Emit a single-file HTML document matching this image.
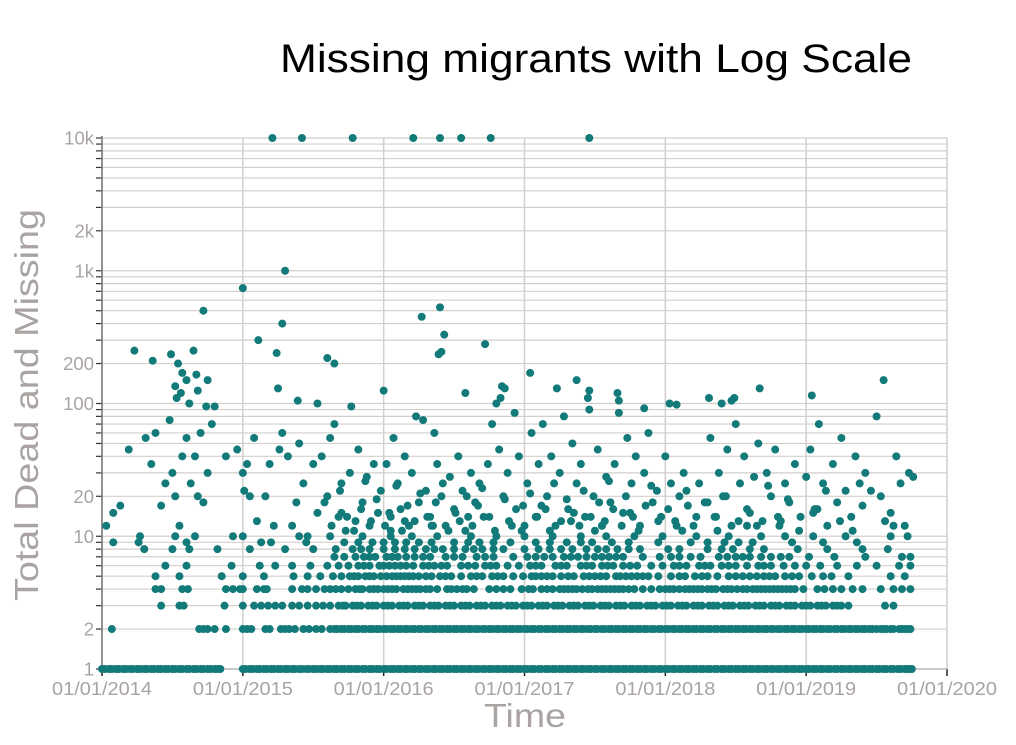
<!DOCTYPE html>
<html><head><meta charset="utf-8"><style>
html,body{margin:0;padding:0;background:#fff;width:1016px;height:745px;overflow:hidden}
svg{display:block}
</style></head><body>
<svg id="chart" width="1016" height="745" xmlns="http://www.w3.org/2000/svg">
<text x="596" y="72" text-anchor="middle" font-family="Liberation Sans, sans-serif" font-size="40" fill="#000" textLength="632" lengthAdjust="spacingAndGlyphs">Missing migrants with Log Scale</text>
<g id="grid"></g>
<g id="axes"></g>
<g id="dots"></g>
<text x="525" y="727" text-anchor="middle" font-family="Liberation Sans, sans-serif" font-size="33" fill="#a9a4a2" textLength="82" lengthAdjust="spacingAndGlyphs">Time</text>
<text transform="translate(38,405) rotate(-90)" text-anchor="middle" font-family="Liberation Sans, sans-serif" font-size="33" fill="#a9a4a2" textLength="392" lengthAdjust="spacingAndGlyphs">Total Dead and Missing</text>
</svg>
<script>
const xTickYears=[2014,2015,2016,2017,2018,2019,2020];
const xTickLabels=["01/01/2014","01/01/2015","01/01/2016","01/01/2017","01/01/2018","01/01/2019","01/01/2020"];
const yTickValues=[1,2,10,20,100,200,1000,2000,10000];
const yTickLabels=["1","2","10","20","100","200","1k","2k","10k"];
const row1Dates=[2014.00,2014.05,2014.10,2014.15,2014.20,2014.25,2014.30,2014.35,2014.40,2014.45,2014.50,2014.55,2014.60,2014.65,2014.70,2014.75,2014.80,2014.84,
2015.00,2015.05,2015.10,2015.15,2015.20,2015.25,2015.30,2015.35,2015.40,2015.45,2015.50,2015.55,2015.60,2015.65,2015.70,2015.75,2015.80,2015.85,2015.90,2015.95,
2016.00,2016.05,2016.10,2016.15,2016.20,2016.25,2016.30,2016.35,2016.40,2016.45,2016.50,2016.55,2016.60,2016.65,2016.70,2016.75,2016.80,2016.85,2016.90,2016.95,
2017.00,2017.05,2017.10,2017.15,2017.20,2017.25,2017.30,2017.35,2017.40,2017.45,2017.50,2017.55,2017.60,2017.65,2017.70,2017.75,2017.80,2017.85,2017.90,2017.95,
2018.00,2018.05,2018.10,2018.15,2018.20,2018.25,2018.30,2018.35,2018.40,2018.45,2018.50,2018.55,2018.60,2018.65,2018.70,2018.75,2018.80,2018.85,2018.90,2018.95,
2019.00,2019.05,2019.10,2019.15,2019.20,2019.25,2019.30,2019.35,2019.40,2019.45,2019.50,2019.55,2019.60,2019.65,2019.70,2019.75];
const row1ExtraDates=[2014.02,2014.07,2014.12,2014.17,2014.22,2014.27,2014.32,2014.37,2014.42,2014.47,2014.52,2014.57,2014.62,2014.67,2014.72,2014.77,2014.82,
2015.02,2015.07,2015.12,2015.17,2015.22,2015.27,2015.32,2015.37,2015.42,2015.47,2015.52,2015.57,2015.62,2015.67,2015.72,2015.77,2015.82,2015.87,2015.92,2015.97,
2016.02,2016.07,2016.12,2016.17,2016.22,2016.27,2016.32,2016.37,2016.42,2016.47,2016.52,2016.57,2016.62,2016.67,2016.72,2016.77,2016.82,2016.87,2016.92,2016.97,
2017.02,2017.07,2017.12,2017.17,2017.22,2017.27,2017.32,2017.37,2017.42,2017.47,2017.52,2017.57,2017.62,2017.67,2017.72,2017.77,2017.82,2017.87,2017.92,2017.97,
2018.02,2018.07,2018.12,2018.17,2018.22,2018.27,2018.32,2018.37,2018.42,2018.47,2018.52,2018.57,2018.62,2018.67,2018.72,2018.77,2018.82,2018.87,2018.92,2018.97,
2019.02,2019.07,2019.12,2019.17,2019.22,2019.27,2019.32,2019.37,2019.42,2019.47,2019.52,2019.57,2019.62,2019.67,2019.72,2019.74];
const row2Dates=[2014.07,2014.69,2014.72,2014.75,2014.80,2014.88,2015.00,2015.03,2015.06,2015.16,2015.19,2015.27,2015.30,2015.33,2015.37,2015.43,2015.47,2015.52,2015.56,
2015.62,2015.67,2015.72,2015.77,2015.82,2015.87,2015.92,2015.97,2016.02,2016.07,2016.12,2016.17,2016.22,2016.27,2016.32,2016.37,2016.42,2016.47,2016.52,2016.57,2016.62,2016.67,2016.72,2016.77,2016.82,2016.87,2016.92,2016.97,
2017.02,2017.07,2017.12,2017.17,2017.22,2017.27,2017.32,2017.37,2017.42,2017.47,2017.52,2017.57,2017.62,2017.67,2017.72,2017.77,2017.82,2017.87,2017.92,2017.97,
2018.02,2018.07,2018.12,2018.17,2018.22,2018.27,2018.32,2018.37,2018.42,2018.47,2018.52,2018.57,2018.62,2018.67,2018.72,2018.77,2018.82,2018.87,2018.92,2018.97,
2019.02,2019.07,2019.12,2019.17,2019.22,2019.27,2019.32,2019.37,2019.42,2019.47,2019.53,2019.57,2019.62,2019.66,2019.70,2019.74];
const row2ExtraDates=[2015.65,2015.70,2015.75,2015.80,2015.85,2015.90,2015.95,2016.00,2016.05,2016.10,2016.15,2016.20,2016.25,2016.30,2016.35,2016.40,2016.45,2016.50,2016.55,2016.60,2016.65,2016.70,2016.75,2016.80,2016.85,2016.90,2016.95,
2017.00,2017.05,2017.10,2017.15,2017.20,2017.25,2017.30,2017.35,2017.40,2017.45,2017.50,2017.55,2017.60,2017.65,2017.70,2017.75,2017.80,2017.85,2017.90,2017.95,
2018.00,2018.05,2018.10,2018.15,2018.20,2018.25,2018.30,2018.35,2018.40,2018.45,2018.50,2018.55,2018.60,2018.65,2018.70,2018.75,2018.80,2018.85,2018.90,2018.95,
2019.00,2019.05,2019.10,2019.15,2019.20,2019.25,2019.30,2019.35,2019.40,2019.45,2019.50,2019.55,2019.60,2019.68,2019.72];
const row3Dates=[2014.42,2014.55,2014.58,2014.87,2015.00,2015.08,2015.13,2015.18,2015.23,2015.28,2015.35,2015.40,2015.46,2015.52,2015.57,2015.62,2015.68,2015.73,2015.78,2015.84,2015.89,2015.95,
2016.00,2016.06,2016.11,2016.17,2016.22,2016.28,2016.33,2016.39,2016.44,2016.50,2016.55,2016.61,2016.66,2016.72,2016.77,2016.83,2016.88,2016.94,2016.99,
2017.05,2017.10,2017.16,2017.21,2017.27,2017.32,2017.38,2017.43,2017.49,2017.54,2017.60,2017.65,2017.71,2017.76,2017.82,2017.87,2017.93,2017.98,
2018.04,2018.09,2018.15,2018.20,2018.26,2018.31,2018.37,2018.42,2018.48,2018.53,2018.59,2018.64,2018.70,2018.75,2018.81,2018.86,2018.92,2018.97,
2019.03,2019.08,2019.14,2019.19,2019.25,2019.30,2019.56,2019.62,
2015.71,2015.81,2015.92,2016.03,2016.14,2016.25,2016.36,2016.47,2016.58,2016.69,2016.80,2016.91,2017.02,2017.13,2017.24,2017.35,2017.46,2017.57,2017.68,2017.79,2017.90,2018.01,2018.12,2018.23,2018.34,2018.45,2018.56,2018.67,2018.78,2018.89,2019.00,2019.11,2019.22];
const row4Dates=[2014.38,2014.42,2014.57,2014.61,2014.88,2014.93,2014.98,2015.00,2015.10,2015.15,2015.17,2015.35,2015.42,2015.46,2015.52,2015.58,2015.62,2015.66,2015.70,2015.75,2015.80,2015.85,2015.90,2015.96,
2016.03,2016.09,2016.14,2016.20,2016.26,2016.33,2016.45,2016.52,2016.59,2016.64,2016.75,2016.85,2016.90,2016.98,
2017.06,2017.12,2017.20,2017.25,2017.31,2017.37,2017.45,2017.52,2017.58,2017.64,2017.70,2017.78,2017.84,2017.90,2017.96,
2018.03,2018.14,2018.20,2018.26,2018.36,2018.41,2018.47,2018.55,2018.62,2018.68,2018.74,2018.80,2018.86,2018.92,2018.98,
2019.08,2019.13,2019.19,2019.25,2019.33,2019.40,2019.53,2019.62,2019.68,2019.74,
2015.83,2015.93,2016.00,2016.06,2016.17,2016.23,2016.30,2016.38,2016.48,2016.56,2016.80,2017.03,2017.16,2017.28,2017.34,2017.41,2017.48,2017.55,2017.61,2017.67,2017.74,2018.00,2018.06,2018.10,2018.17,2018.23,2018.30,2018.33,2018.44,2018.51,2018.58,2018.65,2018.71,2018.77,2018.83,2018.89];
const row5Dates=[2014.38,2014.55,2014.85,2015.00,2015.15,2015.36,2015.46,2015.55,2015.64,2015.70,2015.76,2015.82,2015.87,2015.93,2015.98,
2016.06,2016.12,2016.18,2016.25,2016.30,2016.40,2016.48,2016.55,2016.62,2016.70,2016.77,2016.85,2016.92,2016.99,
2017.05,2017.12,2017.20,2017.26,2017.35,2017.42,2017.50,2017.58,2017.65,2017.72,2017.80,2017.88,2017.95,
2018.04,2018.10,2018.21,2018.30,2018.37,2018.45,2018.55,2018.60,2018.70,2018.78,2018.85,2018.95,
2019.04,2019.12,2019.18,2019.30,2019.60,2019.70,
2015.79,2015.90,2016.02,2016.09,2016.15,2016.21,2016.34,2016.44,2016.66,2016.81,2017.08,2017.16,2017.31,2017.46,2017.54,2017.68,2017.76,2017.84,2018.14,2018.26,2018.50,2018.65,2018.74,2018.90];
const row6Dates=[2014.45,2014.60,2014.92,2015.12,2015.23,2015.35,2015.48,2015.60,2015.68,2015.75,2015.82,2015.90,2015.97,2016.04,2016.12,2016.21,2016.28,2016.36,2016.45,2016.55,2016.65,2016.72,2016.80,2016.88,2016.96,
2017.04,2017.12,2017.22,2017.30,2017.40,2017.48,2017.55,2017.63,2017.70,2017.80,2017.90,2017.98,2018.06,2018.15,2018.24,2018.32,2018.40,2018.50,2018.58,2018.66,2018.75,2018.84,2018.92,2019.00,2019.10,2019.22,2019.36,2019.50,2019.66,2019.74,
2015.86,2016.00,2016.08,2016.16,2016.32,2016.41,2016.60,2016.76,2017.08,2017.26,2017.44,2017.59,2017.75,2018.10,2018.28,2018.45,2018.70];
const row7Dates=[2015.65,2015.72,2015.80,2015.86,2015.94,2016.02,2016.10,2016.22,2016.33,2016.44,2016.56,2016.66,2016.78,2016.92,2017.02,2017.14,2017.28,2017.38,2017.50,2017.60,2017.70,2017.84,2017.96,2018.10,2018.25,2018.38,2018.50,2018.60,2018.75,2018.88,2019.02,2019.20,2019.42,2019.68,2019.74,
2015.90,2016.06,2016.16,2016.28,2016.50,2016.72,2017.08,2017.20,2017.33,2017.44,2017.55,2017.65,2018.04,2018.18,2018.44,2018.55,2018.68,2018.82];
const row8Dates=[2014.30,2014.50,2014.62,2015.05,2015.30,2015.50,2015.66,2015.78,2015.90,2016.00,2016.15,2016.30,2016.42,2016.58,2016.70,2016.85,2017.00,2017.18,2017.34,2017.52,2017.66,2017.82,2018.02,2018.30,2018.48,2018.70,2018.94,2019.15,2019.40,2019.58,
2015.84,2016.08,2016.22,2016.36,2016.50,2016.64,2016.78,2017.10,2017.26,2017.44,2017.58,2017.74,2018.10,2018.40,2018.60];
const row9Dates=[2014.08,2014.60,2015.20,2015.45,2015.72,2015.92,2016.08,2016.25,2016.50,2016.68,2016.90,2017.08,2017.30,2017.48,2017.74,2017.95,2018.18,2018.42,2018.62,2018.90,2019.12,2019.36,
2015.82,2016.00,2016.16,2016.34,2016.60,2016.78,2017.18,2017.40,2017.62,2018.30,2018.52];
const row10Dates=[2014.27,2014.52,2014.66,2015.00,2015.40,2015.62,2015.85,2016.05,2016.20,2016.38,2016.62,2016.80,2017.00,2017.20,2017.40,2017.58,2017.78,2017.98,2018.22,2018.45,2018.68,2018.85,2019.05,2019.28,2019.60,2019.72];
const scatterDates=[2015.21,2015.42,2015.78,2016.21,2016.40,2016.55,2016.76,2017.46,
2015.00,2015.30,2014.72,2015.28,2015.11,2015.24,2014.23,2014.36,2014.49,2014.65,2014.54,2014.57,2014.52,2014.60,2014.75,2014.67,2014.56,2014.53,2014.68,2014.74,2014.80,2014.62,
2016.27,2016.40,2016.43,2016.41,2016.39,2016.72,2015.60,2015.65,2016.00,2015.77,2015.53,2015.39,2015.25,2016.58,2016.84,2016.86,2016.83,2017.04,2017.23,2017.37,2017.46,2017.45,2017.66,2017.67,2017.85,2018.03,2018.08,2018.31,2018.40,2018.47,2018.49,2018.67,2019.04,2019.55,
2014.03,2014.08,2014.13,2014.19,2014.26,2014.31,2014.35,2014.38,2014.42,2014.45,2014.48,2014.50,2014.52,2014.55,2014.57,2014.60,2014.63,2014.66,2014.68,2014.70,2014.72,2014.75,2014.78,2014.82,2014.88,2014.93,2014.96,
2015.00,2015.01,2015.03,2015.05,2015.08,2015.10,2015.13,2015.16,2015.19,2015.22,2015.26,2015.28,2015.32,2015.35,2015.38,2015.40,2015.43,2015.46,2015.50,2015.53,2015.56,2015.60,2015.62,2015.65,2015.68,2015.70,2015.73,2015.76,2015.80,2015.82,2015.85,2015.88,2015.90,2015.93,2015.96,2015.98,
2016.02,2016.05,2016.07,2016.10,2016.12,2016.15,2016.18,2016.20,2016.23,2016.25,2016.28,2016.30,2016.33,2016.36,2016.38,2016.41,2016.44,2016.47,2016.50,2016.53,2016.56,2016.58,2016.62,2016.65,2016.68,2016.71,2016.74,2016.77,2016.80,2016.82,2016.85,2016.88,2016.91,2016.93,2016.96,2016.99,
2017.02,2017.05,2017.08,2017.10,2017.13,2017.16,2017.19,2017.22,2017.25,2017.28,2017.31,2017.34,2017.37,2017.40,2017.43,2017.46,2017.49,2017.52,2017.55,2017.58,2017.61,2017.64,2017.67,2017.70,2017.73,2017.76,2017.79,2017.82,2017.85,2017.88,2017.91,2017.94,2017.97,
2018.00,2018.04,2018.07,2018.10,2018.13,2018.16,2018.20,2018.24,2018.28,2018.32,2018.35,2018.38,2018.41,2018.44,2018.47,2018.50,2018.53,2018.56,2018.60,2018.63,2018.66,2018.69,2018.72,2018.75,2018.78,2018.81,2018.85,2018.88,2018.92,2018.96,
2019.00,2019.03,2019.06,2019.09,2019.12,2019.15,2019.19,2019.22,2019.25,2019.28,2019.32,2019.35,2019.38,2019.42,2019.46,2019.50,2019.53,2019.56,2019.60,2019.64,2019.67,2019.70,2019.73,2019.76,
2015.70,2016.05,2016.15,2016.35,2016.60,2016.98,2017.15,2017.33,2017.55,2017.75,2018.12,2018.36,2018.58,2018.82,2019.08,2019.33,
2015.58,2015.63,2015.69,2015.74,2015.79,2015.84,2015.87,2015.91,2015.95,2016.01,2016.04,2016.09,2016.13,2016.17,2016.22,2016.26,2016.31,2016.34,2016.37,2016.42,2016.46,2016.51,2016.54,2016.59,2016.63,2016.67,2016.70,2016.75,2016.79,2016.86,2016.89,2016.94,
2017.00,2017.04,2017.09,2017.12,2017.18,2017.21,2017.26,2017.30,2017.35,2017.39,2017.42,2017.47,2017.50,2017.53,2017.57,2017.60,2017.63,2017.69,2017.72,2017.77,2017.81,2017.86,2017.90,2017.95,
2018.02,2018.08,2018.15,2018.22,2018.30,2018.37,2018.43,2018.52,2018.58,2018.65,2018.73,2018.80,2018.87,2018.95,2019.05,2019.14,2019.24,2019.40,2019.62];
const scatterValues=[10000,10000,10000,10000,10000,10000,10000,10000,
740,1000,500,400,300,240,250,210,235,250,200,170,135,150,150,165,120,110,125,95,95,100,
450,530,330,245,235,280,220,200,125,95,100,105,130,120,135,130,110,170,130,150,125,110,120,105,92,100,98,110,100,105,110,130,115,150,
12,15,17,45,9,55,35,60,17,25,75,30,20,12,40,55,25,40,20,60,18,30,70,8,40,10,45,
30,22,35,20,55,13,9,20,35,12,45,60,40,12,18,50,25,10,35,15,40,20,55,70,14,25,11,30,13,45,18,28,12,35,15,22,
35,14,55,25,16,40,12,30,80,18,75,22,14,60,35,20,12,28,16,40,22,11,30,18,25,14,35,70,100,45,20,30,12,85,40,17,
25,60,14,35,70,20,40,12,30,80,16,50,25,35,14,90,20,45,12,28,18,35,85,15,55,25,40,12,30,60,18,22,14,
40,25,13,20,30,17,12,25,18,55,14,30,20,45,12,70,25,40,15,28,50,13,30,20,45,12,25,18,35,14,
28,45,16,70,25,12,35,18,55,22,14,40,25,30,22,80,20,13,15,40,25,12,30,28,
15,11,13,12,14,11,16,13,12,15,11,14,12,13,16,11,
18,12,22,14,11,16,26,13,19,12,15,24,11,17,13,21,14,12,18,25,11,15,13,20,12,17,23,14,11,19,13,16,
12,21,14,17,11,25,13,19,15,12,22,14,11,18,13,26,16,12,20,14,11,17,24,13,
16,12,22,14,18,11,20,13,16,12,24,14,19,11,15,22,13,17,12];

const X0=102,X1=947,Y1=669,Y0=138;
function xScale(yr){return X0+(yr-2014)/(2020-2014)*(X1-X0);}
function yScale(v){return Y1-Math.log10(v)/4*(Y1-Y0);}
const NS="http://www.w3.org/2000/svg";
function mk(tag,attrs,parent){const e=document.createElementNS(NS,tag);for(const k in attrs)e.setAttribute(k,attrs[k]);parent.appendChild(e);return e;}
const grid=document.getElementById('grid'),axes=document.getElementById('axes'),dots=document.getElementById('dots');
function hLine(v){const y=yScale(v);
 const gl=mk('line',{x1:X0,x2:X1,y1:y,y2:y,stroke:'#d2cfcd','stroke-width':1.2},grid);
 
 
 const tk=mk('line',{x1:X0-6,x2:X0,y1:y,y2:y,stroke:'#333','stroke-width':1.2},axes);
 
 }
for(let p=0;p<4;p++){for(let m=1;m<=9;m++){hLine(m*Math.pow(10,p));}}
hLine(10000);
xTickYears.forEach((yr,i)=>{const x=xScale(yr);
 const gl=mk('line',{x1:x,x2:x,y1:Y0,y2:Y1,stroke:'#d2cfcd','stroke-width':1.5},grid);
 
 
 const tk=mk('line',{x1:x,x2:x,y1:Y1,y2:Y1+7,stroke:'#222','stroke-width':1.5},axes);
 
 
 const t=mk('text',{x:x,y:Y1+26,'text-anchor':'middle','font-family':'Liberation Sans, sans-serif','font-size':18,fill:'#a9a4a2',textLength:100,lengthAdjust:'spacingAndGlyphs'},axes);
 t.textContent=xTickLabels[i];
 
 
});
const ax=mk('line',{x1:X0,x2:X0,y1:Y0-2,y2:Y1+1,stroke:'#777','stroke-width':1.5},axes);


const bx=mk('line',{x1:X0,x2:X1,y1:Y1,y2:Y1,stroke:'#bbb','stroke-width':1.5},axes);


yTickValues.forEach((v,i)=>{const t=mk('text',{x:X0-8,y:yScale(v)+6.5,'text-anchor':'end','font-family':'Liberation Sans, sans-serif','font-size':18.5,fill:'#a9a4a2'},axes);
 t.textContent=yTickLabels[i];
 
 });
function addDot(yr,v){const c=mk('circle',{cx:xScale(yr),cy:yScale(v),r:4,fill:'#137a7a'},dots);
 
 }
const rows=[[1,row1Dates],[1,row1ExtraDates],[2,row2Dates],[2,row2ExtraDates],[3,row3Dates],[4,row4Dates],[5,row5Dates],[6,row6Dates],[7,row7Dates],[8,row8Dates],[9,row9Dates],[10,row10Dates]];
rows.forEach(([v,ds])=>ds.forEach(d=>addDot(d,v)));
scatterDates.forEach((d,i)=>addDot(d,scatterValues[i]));
</script>
</body></html>
